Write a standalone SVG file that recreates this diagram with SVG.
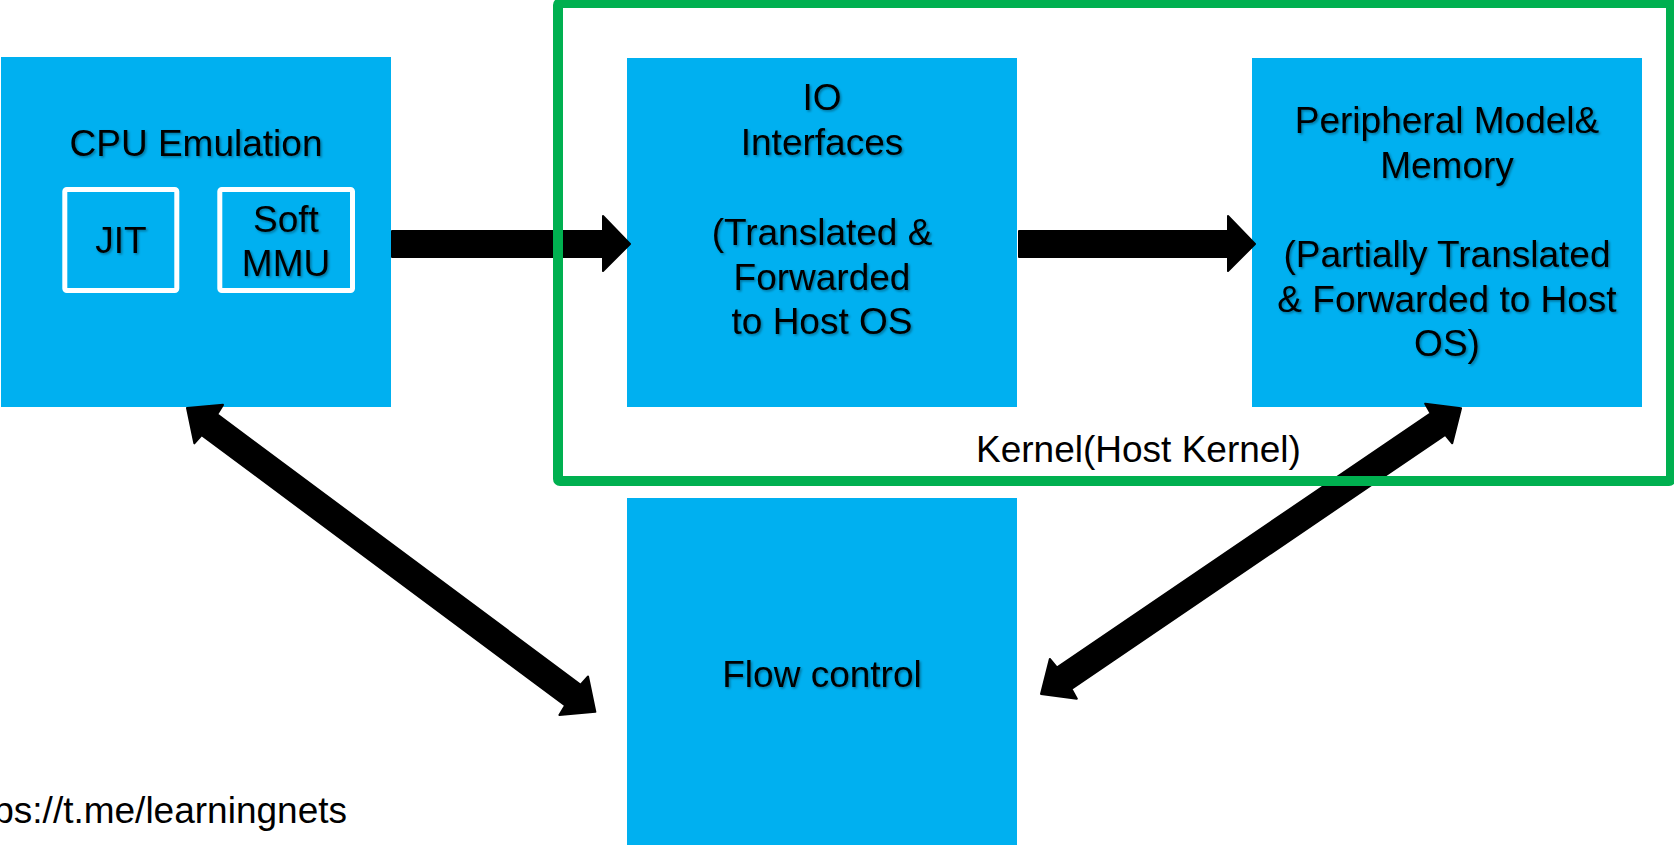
<svg xmlns="http://www.w3.org/2000/svg" width="1674" height="845" viewBox="0 0 1674 845">
<defs>
<style>
.box{fill:#00B0F0}
.sub{fill:none;stroke:#FFFFFF;stroke-width:5;stroke-linejoin:round}
.t{font-family:"Liberation Sans",Arial,sans-serif;font-size:37px;fill:#000;text-anchor:middle}
.ts{filter:url(#shadow)}
.plain{font-family:"Liberation Sans",Arial,sans-serif;font-size:37px;fill:#000}
.arrow{fill:#000;stroke:#000;stroke-width:2;stroke-linejoin:round}
.kernel{fill:none;stroke:#00B050;stroke-width:10;stroke-linejoin:round}
</style>
<filter id="shadow" x="-10%" y="-30%" width="120%" height="160%">
<feDropShadow dx="1.5" dy="1.5" stdDeviation="1" flood-color="#000" flood-opacity="0.35"/>
</filter>
</defs>
<rect width="1674" height="845" fill="#FFFFFF"/>

<g id="cpu-emulation">
<rect class="box" x="1" y="57" width="390" height="350"/>
<text class="t ts" x="196" y="156">CPU Emulation</text>
<g id="jit">
<rect class="sub" x="64.8" y="189.5" width="112" height="101" rx="2"/>
<text class="t ts" x="121" y="253">JIT</text>
</g>
<g id="soft-mmu">
<rect class="sub" x="219.8" y="189.5" width="132.7" height="101" rx="2"/>
<text class="t ts" x="286" y="232">Soft</text>
<text class="t ts" x="286" y="276">MMU</text>
</g>
</g>

<g id="io-interfaces">
<rect class="box" x="627" y="58" width="390" height="349"/>
<text class="t ts" x="822" y="110">IO</text>
<text class="t ts" x="822" y="155">Interfaces</text>
<text class="t ts" x="822" y="245">(Translated &amp;</text>
<text class="t ts" x="822" y="290">Forwarded</text>
<text class="t ts" x="822" y="334">to Host OS</text>
</g>

<g id="peripheral-model">
<rect class="box" x="1252" y="58" width="390" height="349"/>
<text class="t ts" x="1447" y="133">Peripheral Model&amp;</text>
<text class="t ts" x="1447" y="178">Memory</text>
<text class="t ts" x="1447" y="267">(Partially Translated</text>
<text class="t ts" x="1447" y="312">&amp; Forwarded to Host</text>
<text class="t ts" x="1447" y="356">OS)</text>
</g>

<g id="flow-control">
<rect class="box" x="627" y="498" width="390" height="360"/>
<text class="t ts" x="822" y="687">Flow control</text>
</g>

<g id="connectors">
<polygon class="arrow" points="392,231 603,231 603,216 630,244 603,271 603,257 392,257"/>
<polygon class="arrow" points="1019,231 1228,231 1228,216 1255,244 1228,271 1228,257 1019,257"/>
<polygon class="arrow" transform="translate(187,408) rotate(36.65)" points="0,0 27,-24 28,-13 481,-13 482,-24 509,0 482,24 481,13 28,13 27,24"/>
<polygon class="arrow" transform="translate(1041,694) rotate(-34.22)" points="0,0 27,-24 28,-13 480,-13 481,-24 508,0 481,24 480,13 28,13 27,24"/>
</g>

<g id="kernel-host">
<rect class="kernel" x="558" y="3" width="1113" height="478" rx="2"/>
<text class="plain" x="976" y="462">Kernel(Host Kernel)</text>
</g>

<text class="plain" x="347" y="823" text-anchor="end">https://t.me/learningnets</text>
</svg>
